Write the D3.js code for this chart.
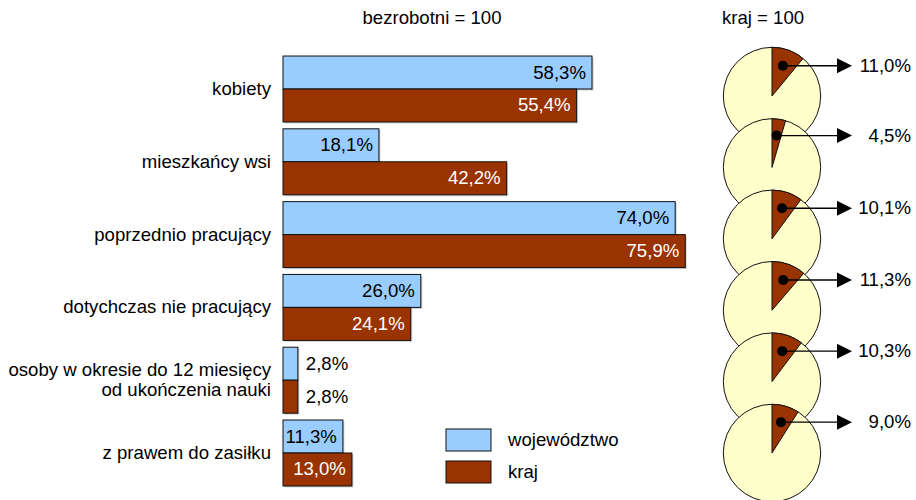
<!DOCTYPE html>
<html>
<head>
<meta charset="utf-8">
<script src="https://cdn.jsdelivr.net/npm/d3@7"></script>
<style>
  body { margin: 0; background: #fff; }
  svg { font-family: "Liberation Sans", Arial, sans-serif; }
</style>
</head>
<body>
<svg id="chart" width="916" height="500"></svg>
<script>
// ---- data ----
const categories = [
  ["kobiety"],
  ["mieszkańcy wsi"],
  ["poprzednio pracujący"],
  ["dotychczas nie pracujący"],
  ["osoby w okresie do 12 miesięcy", "od ukończenia nauki"],
  ["z prawem do zasiłku"]
];
const wojewodztwo = [58.3, 18.1, 74.0, 26.0, 2.8, 11.3];
const kraj = [55.4, 42.2, 75.9, 24.1, 2.8, 13.0];
const krajShare = [11.0, 4.5, 10.1, 11.3, 10.3, 9.0];
const seriesNames = ["województwo", "kraj"];

const fmt = v => d3.format(".1f")(v).replace(".", ",") + "%";

// ---- layout ----
const svg = d3.select("#chart");
const colors = ["#99CCFF", "#993300"];
const labelColors = ["#000", "#fff"];
const fontSize = 18.6;

const idx = d3.range(categories.length);

const x = d3.scaleLinear().domain([0, 100]).range([283, 283 + 530]);
const y = d3.scaleBand().domain(idx).range([52.6, 489.4])
            .paddingInner(0.094).paddingOuter(0.047);
const ySub = d3.scaleBand().domain([0, 1]).range([0, y.bandwidth()]);

// titles
svg.append("text")
    .attr("x", 432).attr("y", 24)
    .attr("text-anchor", "middle")
    .attr("font-size", fontSize)
    .text("bezrobotni = 100");

svg.append("text")
    .attr("x", 763).attr("y", 24)
    .attr("text-anchor", "middle")
    .attr("font-size", fontSize)
    .text("kraj = 100");

// category labels
const catG = svg.append("g");
categories.forEach((lines, i) => {
  const cy = y(i) + y.bandwidth() / 2;
  const lh = 20;
  const t = catG.append("text")
      .attr("text-anchor", "end")
      .attr("font-size", fontSize);
  lines.forEach((ln, k) => {
    t.append("tspan")
      .attr("x", 271)
      .attr("y", cy + 6 + (k - (lines.length - 1) / 2) * lh)
      .text(ln);
  });
});

// bars
const series = [wojewodztwo, kraj];
const barG = svg.append("g");
series.forEach((vals, s) => {
  idx.forEach(i => {
    const bx = x(0), by = y(i) + ySub(s);
    const bw = x(vals[i]) - x(0), bh = ySub.bandwidth();
    // light shadow
    barG.append("rect")
        .attr("x", bx + 1.5).attr("y", by + 1.5)
        .attr("width", bw).attr("height", bh)
        .attr("fill", "#cfcfcf");
    barG.append("rect")
        .attr("x", bx).attr("y", by)
        .attr("width", bw).attr("height", bh)
        .attr("fill", colors[s])
        .attr("stroke", "#111")
        .attr("stroke-width", 1);
  });
});
series.forEach((vals, s) => {
  idx.forEach(i => {
    const by = y(i) + ySub(s) + ySub.bandwidth() / 2 + 6;
    const t = barG.append("text")
        .attr("font-size", fontSize)
        .text(fmt(vals[i]));
    const tw = t.node().getComputedTextLength();
    const bw = x(vals[i]) - x(0);
    if (tw + 8 < bw) {
      t.attr("x", x(vals[i]) - 6).attr("y", by)
       .attr("text-anchor", "end").attr("fill", labelColors[s]);
    } else {
      t.attr("x", x(vals[i]) + 8).attr("y", by)
       .attr("text-anchor", "start").attr("fill", "#000");
    }
  });
});

// legend
const leg = svg.append("g").attr("transform", "translate(446,429)");
seriesNames.forEach((name, s) => {
  leg.append("rect")
      .attr("x", 0).attr("y", s * 32)
      .attr("width", 45).attr("height", 22)
      .attr("fill", colors[s])
      .attr("stroke", "#111");
  leg.append("text")
      .attr("x", 62).attr("y", s * 32 + 17)
      .attr("font-size", fontSize)
      .text(name);
});

// pies
const r = 48.7;
const pieX = 772;
const pieY = d3.scalePoint().domain(idx).range([96, 453]);
const angle = d3.scaleLinear().domain([0, 100]).range([0, 2 * Math.PI]);
const arc = d3.arc().innerRadius(0).outerRadius(r);

const pieG = svg.append("g");
idx.forEach(i => {
  const g = pieG.append("g")
      .attr("transform", "translate(" + pieX + "," + pieY(i) + ")");
  g.append("circle")
      .attr("r", r)
      .attr("fill", "#FFFFCC")
      .attr("stroke", "#111")
      .attr("stroke-width", 1);
  g.append("path")
      .attr("d", arc({startAngle: 0, endAngle: angle(krajShare[i])}))
      .attr("fill", "#993300")
      .attr("stroke", "#111")
      .attr("stroke-width", 1);
});

// arrows and labels drawn above all pies
const arrowG = svg.append("g");
idx.forEach(i => {
  const a = angle(krajShare[i]) / 2;
  const dx = pieX + Math.sin(a) * r * 0.66;
  const dy = pieY(i) - Math.cos(a) * r * 0.66;
  const baseX = 837, tipX = 852;
  arrowG.append("line")
      .attr("x1", dx).attr("y1", dy)
      .attr("x2", baseX).attr("y2", dy)
      .attr("stroke", "#000").attr("stroke-width", 1.4);
  arrowG.append("path")
      .attr("d", d3.line()([[baseX, dy - 7.5], [tipX, dy], [baseX, dy + 7.5]]) + "Z")
      .attr("fill", "#000");
  arrowG.append("circle")
      .attr("cx", dx).attr("cy", dy).attr("r", 5)
      .attr("fill", "#000");
  arrowG.append("text")
      .attr("x", 911).attr("y", dy + 6)
      .attr("text-anchor", "end")
      .attr("font-size", fontSize)
      .text(fmt(krajShare[i]));
});
</script>
</body>
</html>
